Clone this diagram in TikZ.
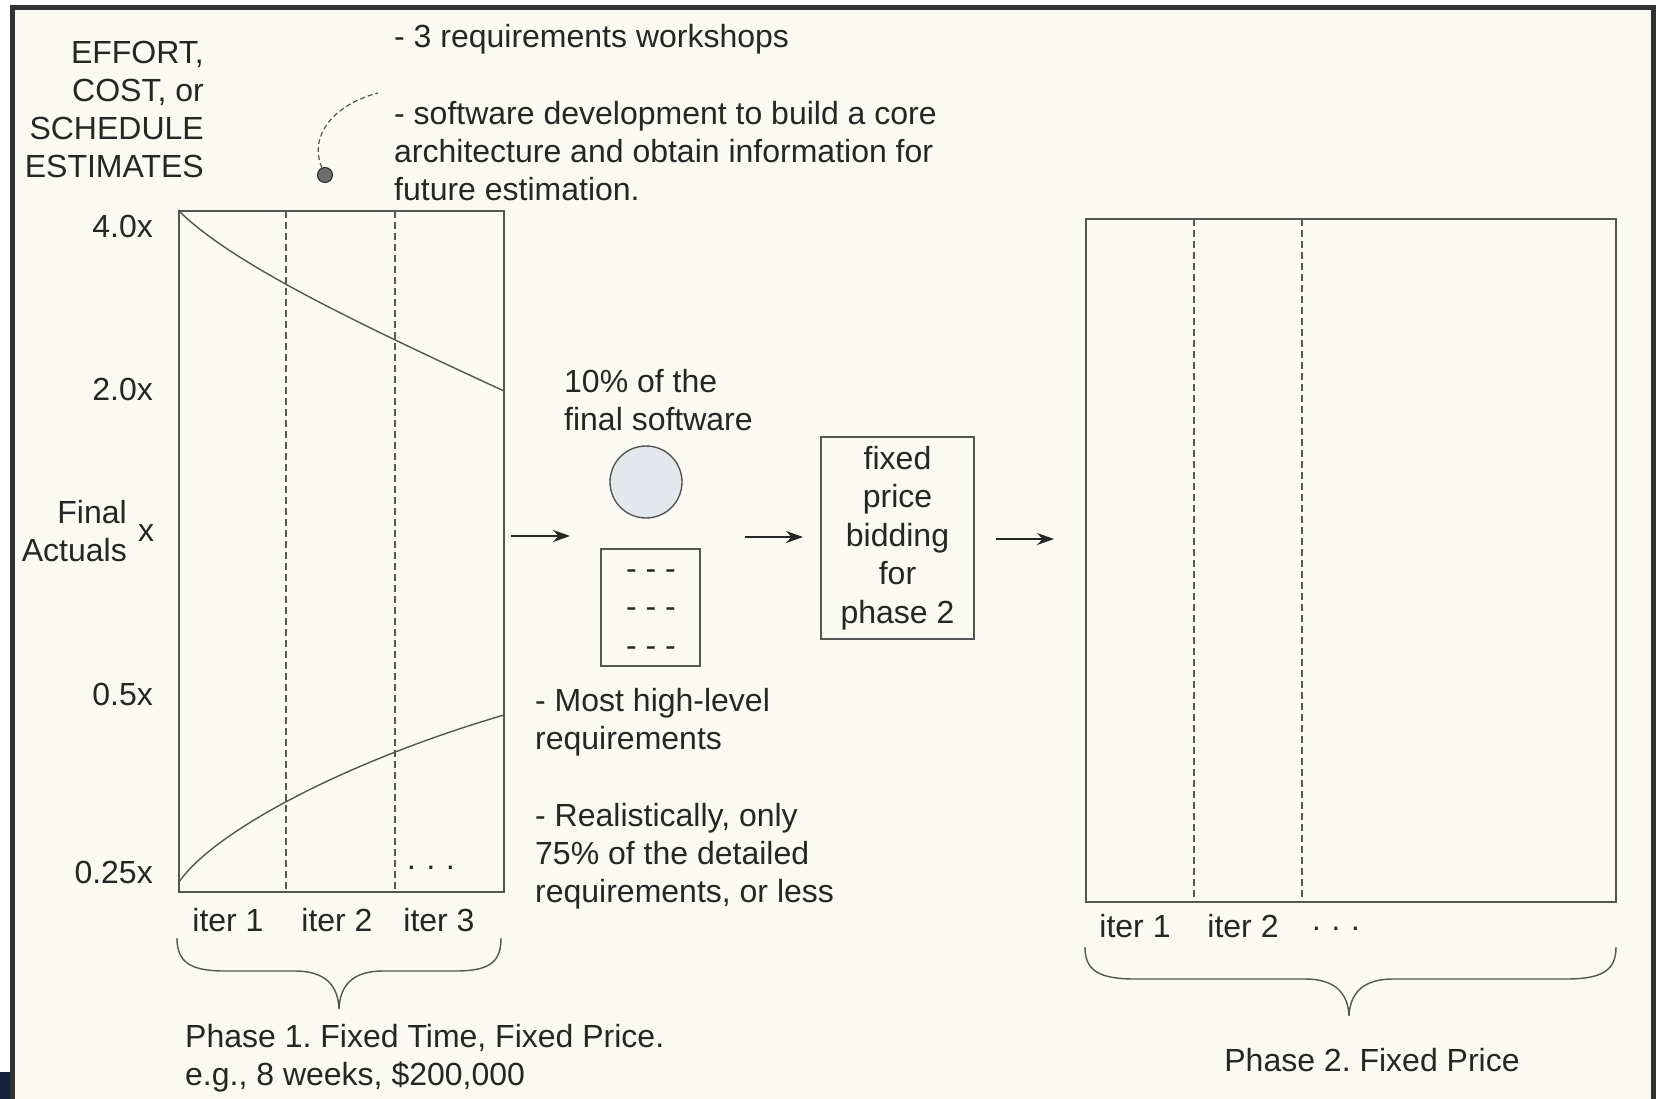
\documentclass[tikz,border=0pt]{standalone}
\usepackage{fontspec}
\setmainfont{Liberation Sans}
\usetikzlibrary{arrows.meta}
\definecolor{ink}{RGB}{38,38,38}
\definecolor{linec}{RGB}{85,85,85}
\definecolor{paper}{RGB}{250,249,242}
\definecolor{framec}{RGB}{50,50,50}
\definecolor{circfill}{RGB}{228,231,235}
\definecolor{navy}{RGB}{20,35,60}
\begin{document}
\frenchspacing
\begin{tikzpicture}[x=1pt,y=-1pt,
  txt/.style={inner sep=0pt, text=ink, font=\fontsize{32}{38}\selectfont},
  boxline/.style={draw=linec, line width=1.6pt, inner sep=0pt},
  dashln/.style={draw=linec, line width=1.3pt, dash pattern=on 7pt off 4pt},
  curveln/.style={draw=linec, line width=1.4pt},
  arr/.style={draw=ink, line width=1.5pt, -{Stealth[length=17pt,width=12pt]}},
  bracel/.style={draw=linec, line width=1.4pt}
]
\useasboundingbox (0,0) rectangle (1656,1099);
\fill[white] (0,0) rectangle (1656,1099);
\fill[paper] (12.5,7.5) rectangle (1653.5,1099);
\draw[framec, line width=5pt] (12.5,1110) -- (12.5,7.5) -- (1653.5,7.5) -- (1653.5,1110);
\fill[navy] (0,1072) rectangle (10,1099);

% axis title
\node[txt, align=right, anchor=north east] (ytitle) at (204,41) {EFFORT,\\COST, or\\SCHEDULE\\ESTIMATES};
% y labels
\node[txt, anchor=east] (y40) at (153,226) {4.0x};
\node[txt, anchor=east] (y20) at (153,389) {2.0x};
\node[txt, align=right, anchor=north east] (yfa) at (127,500) {Final\\Actuals};
\node[txt] (yx) at (146,533) {x};
\node[txt, anchor=east] (y05) at (153,694) {0.5x};
\node[txt, anchor=east] (y025) at (153,872) {0.25x};

% top notes
\node[txt, anchor=north west] (note1) at (394,24) {- 3 requirements workshops};
\node[txt, align=left, anchor=north west] (note2) at (394,101) {- software development to build a core\\architecture and obtain information for\\future estimation.};
\node[circle, fill=linec!85, draw=ink, line width=1pt, minimum size=15pt, inner sep=0pt] (dot) at (325,175) {};
\coordinate (dotend) at (378,93);
\draw[draw=linec, line width=1.2pt, dash pattern=on 5pt off 3pt] (dot) .. controls (308,135) and (335,104) .. (dotend);

% phase 1 box
\node[boxline, minimum width=325pt, minimum height=681pt] (p1) at (341.5,551.5) {};
\draw[dashln] (286,211) -- (286,892);
\draw[dashln] (395,211) -- (395,892);
\coordinate (topend) at (504,391);
\coordinate (botstart) at (179,882);
\coordinate (botend) at (504,715);
\draw[curveln] (p1.north west) .. controls (230,262) and (350,320) .. (topend);
\draw[curveln] (botstart) .. controls (215,830) and (350,760) .. (botend);
\node[txt, anchor=base] (p1dots) at (431,876) {· · ·};

\node[txt] (p1i1) at (228,920) {iter 1};
\node[txt] (p1i2) at (337,920) {iter 2};
\node[txt] (p1i3) at (439,920) {iter 3};
\draw[bracel] (177,938) .. controls (177,962) and (190,971) .. (225,971) -- (295,971)
  .. controls (325,971) and (338,985) .. (339,1009)
  .. controls (340,985) and (353,971) .. (383,971) -- (455,971)
  .. controls (490,971) and (501,962) .. (501,938);
\node[txt, align=left, anchor=north west] (p1lbl) at (185,1024) {Phase 1. Fixed Time, Fixed Price.\\e.g., 8 weeks, \$200,000};

% middle
\coordinate (a1s) at (511,536);
\coordinate (a1e) at (570,536);
\draw[arr] (a1s) -- (a1e);
\node[txt, align=left, anchor=north west] (sw) at (564,369) {10\% of the\\final software};
\node[circle, draw=linec, line width=1.4pt, fill=circfill, minimum size=72pt, inner sep=0pt] (circ) at (646,482) {};
\node[boxline, minimum width=99pt, minimum height=117pt] (req) at (650.5,607.5) {};
\node[txt, anchor=base] (d1) at (651,579) {- - -};
\node[txt, anchor=base] (d2) at (651,617) {- - -};
\node[txt, anchor=base] (d3) at (651,656) {- - -};
\node[txt, align=left, anchor=north west] (hl) at (535,688) {- Most high-level\\requirements};
\node[txt, align=left, anchor=north west] (real) at (535,803) {- Realistically, only\\75\% of the detailed\\requirements, or less};

\coordinate (a2s) at (745,537);
\coordinate (a2e) at (803,537);
\draw[arr] (a2s) -- (a2e);
\node[boxline, txt, align=center, minimum width=153pt, minimum height=202pt, draw=linec, line width=1.6pt, font=\fontsize{32}{38.5}\selectfont] (bid) at (897.5,538) {fixed\\price\\bidding\\for\\phase 2};
\coordinate (a3s) at (996,539);
\coordinate (a3e) at (1054,539);
\draw[arr] (a3s) -- (a3e);

% phase 2 box
\node[boxline, minimum width=530pt, minimum height=683pt] (p2) at (1351,560.5) {};
\draw[dashln] (1194,219) -- (1194,902);
\draw[dashln] (1302,219) -- (1302,902);
\node[txt] (p2i1) at (1135,926) {iter 1};
\node[txt] (p2i2) at (1243,926) {iter 2};
\node[txt, anchor=base] (p2dots) at (1336,937) {· · ·};
\draw[bracel] (1085,947) .. controls (1085,970) and (1098,979) .. (1135,979) -- (1305,979)
  .. controls (1335,979) and (1348,993) .. (1349,1016)
  .. controls (1350,993) and (1363,979) .. (1393,979) -- (1566,979)
  .. controls (1603,979) and (1616,970) .. (1616,947);
\node[txt] (p2lbl) at (1372,1060) {Phase 2. Fixed Price};
\end{tikzpicture}
\end{document}
